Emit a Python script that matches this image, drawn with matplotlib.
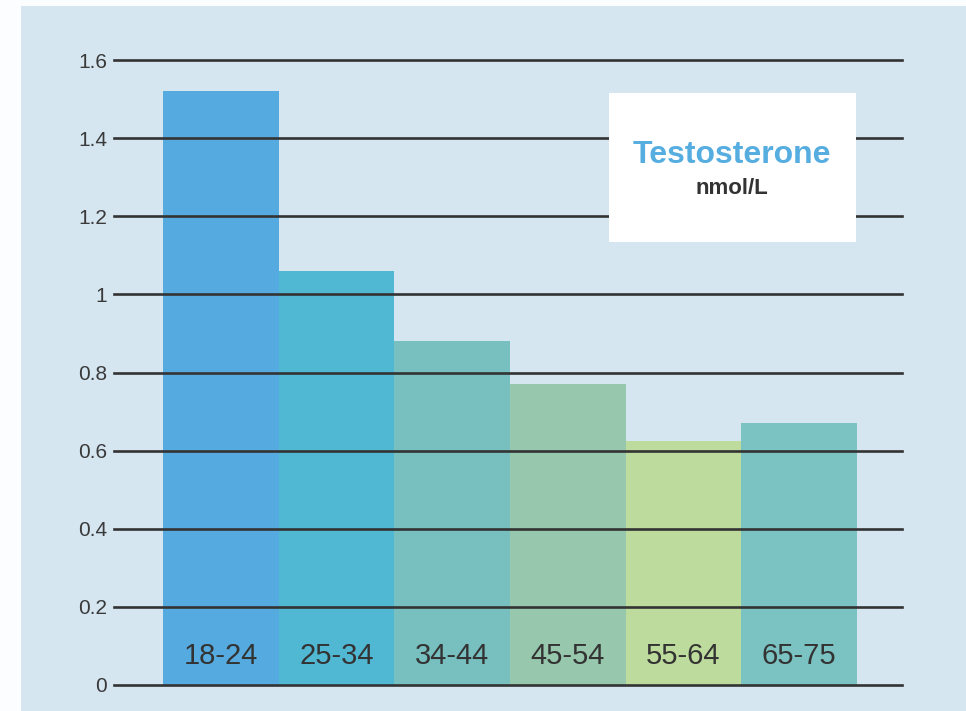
import matplotlib
matplotlib.use("Agg")
import matplotlib.pyplot as plt
from matplotlib.patches import Rectangle

categories = ["18-24", "25-34", "34-44", "45-54", "55-64", "65-75"]
values = [1.52, 1.06, 0.88, 0.77, 0.625, 0.67]
colors = ["#55abdf", "#51b8d4", "#77c0bf", "#97c8ad", "#bcdb9c", "#7bc2c2"]
yticks = [0, 0.2, 0.4, 0.6, 0.8, 1.0, 1.2, 1.4, 1.6]
ytick_labels = ["0", "0.2", "0.4", "0.6", "0.8", "1", "1.2", "1.4", "1.6"]

plt.rcParams['font.family'] = ['Liberation Sans', 'DejaVu Sans']

W, H = 966, 711
fig = plt.figure(figsize=(W / 100, H / 100), dpi=100, facecolor="#fbfdfe")
fig.patches.append(Rectangle((21 / W, 0), 1 - 21 / W, 1 - 6 / H, transform=fig.transFigure,
                             facecolor="#d5e6f1", edgecolor="none", zorder=-5))

ax = fig.add_axes([114 / W, (H - 685) / H, (902 - 114) / W, (685 - 60) / H], zorder=1)
ax.set_facecolor("none")
x = list(range(len(categories)))
ax.bar(x, values, width=1.0, color=colors, zorder=1, edgecolor="none")
for yv in yticks:
    ax.axhline(yv, color="#333333", lw=1.9, zorder=3, clip_on=False)

ax.set_xlim(-0.5 - 49 / 115.7, 5.5 + 45 / 115.7)
ax.set_ylim(0, 1.6)
ax.set_yticks(yticks)
ax.set_yticklabels(ytick_labels, fontsize=15, color="#3a3a3a")
ax.tick_params(axis="y", length=0, pad=5)
ax.set_xticks([])
for s in ax.spines.values():
    s.set_visible(False)

for xi, c in zip(x, categories):
    ax.text(xi, 0.075, c, ha="center", va="center", fontsize=21, color="#333333", zorder=4)

# legend-like box
fig.patches.append(Rectangle((609 / W, (H - 242) / H), (856 - 609) / W, (242 - 93) / H,
                             transform=fig.transFigure, facecolor="white", edgecolor="none", zorder=5))
fig.text(732 / W, (H - 155) / H, "Testosterone", ha="center", va="center", fontsize=23,
         fontweight="bold", color="#56ade0", zorder=6)
fig.text(732 / W, (H - 188) / H, "nmol/L", ha="center", va="center", fontsize=16,
         fontweight="bold", color="#333333", zorder=6)

fig.savefig("out.png", dpi=100, facecolor=fig.get_facecolor())
